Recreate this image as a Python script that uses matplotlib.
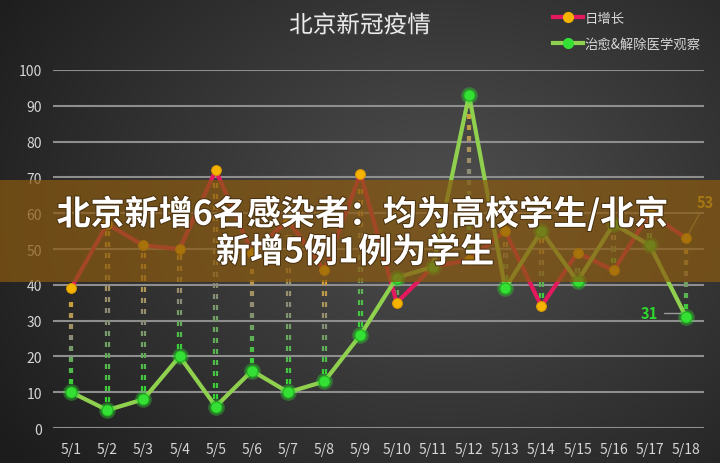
import numpy as np
import matplotlib
matplotlib.use('Agg')
import matplotlib.pyplot as plt
from matplotlib.collections import LineCollection
from matplotlib.lines import Line2D
from matplotlib.patches import Rectangle
from matplotlib.transforms import offset_copy
import matplotlib.patheffects as pe

plt.rcParams['font.family'] = ['Noto Sans CJK SC', 'DejaVu Sans']

dates = ['5/1', '5/2', '5/3', '5/4', '5/5', '5/6', '5/7', '5/8', '5/9',
         '5/10', '5/11', '5/12', '5/13', '5/14', '5/15', '5/16', '5/17', '5/18']
daily = [39, 57, 51, 50, 72, 49, 58, 44, 71, 35, 45, 47, 55, 34, 49, 44, 60, 53]
cured = [10, 5, 8, 20, 6, 16, 10, 13, 26, 42, 45, 93, 39, 55, 41, 57, 51, 31]
yticks = list(range(0, 101, 10))

title = '北京新冠疫情'
label_daily = '日增长'
label_cured = '治愈&解除医学观察'
banner_1 = '北京新增6名感染者：均为高校学生/北京'
banner_2 = '新增5例1例为学生'

RED = '#e3195f'
GOLD = '#f6b400'
LGREEN = '#8fd14f'
GREEN = '#35e035'

fig = plt.figure(figsize=(7.2, 4.64), dpi=100)

# background: soft radial gradient
bg = fig.add_axes([0, 0, 1, 1], zorder=-10)
yy, xx = np.mgrid[0:1:232j, 0:1:360j]
r = np.sqrt(((xx - 0.62) / 0.75) ** 2 + ((yy - 0.55) / 0.9) ** 2)
shade = np.clip(0.31 - 0.2 * r, 0.11, 0.31)
bg.imshow(np.dstack([shade] * 3), extent=[0, 1, 0, 1], aspect='auto', origin='lower')
bg.axis('off')

ax = fig.add_axes([0.0736, 0.0754, 0.9044, 0.7716])
ax.patch.set_alpha(0)
x = np.arange(len(dates))
ax.set_xlim(-0.5, len(dates) - 0.5)
ax.set_ylim(0, 100)
ax.set_yticks(yticks)
ax.set_xticks(x)
ax.set_xticklabels(dates)
for s in ax.spines.values():
    s.set_visible(False)
ax.tick_params(length=0, colors='#d6d6d6', labelsize=10, pad=8)
ax.tick_params(axis='x', pad=10)
ax.yaxis.grid(True, color='#8e8e8e', lw=1.5)
ax.set_axisbelow(True)

# high-low lines, dashed, fading from gold (top) to green (bottom)
segs, cols = [], []
c_top = np.array(matplotlib.colors.to_rgb('#e8a820'))
c_mid = np.array(matplotlib.colors.to_rgb('#8a8a7a'))
c_bot = np.array(matplotlib.colors.to_rgb('#2ed82e'))
for i in range(len(dates)):
    lo, hi = min(daily[i], cured[i]), max(daily[i], cured[i])
    y0 = lo + 2.2
    while y0 + 1.4 < hi - 1.5:
        t = (y0 - lo) / (hi - lo)
        if t < 0.5:
            c = c_bot + (c_mid - c_bot) * (t / 0.5)
        else:
            c = c_mid + (c_top - c_mid) * ((t - 0.5) / 0.5)
        segs.append([(x[i], y0), (x[i], y0 + 1.4)])
        cols.append(c)
        y0 += 3.1
for dx in (-1.4, 1.4):
    lc = LineCollection(segs, colors=cols, linewidths=1.6,
                        transform=offset_copy(ax.transData, fig, x=dx, y=0, units='dots'))
    ax.add_collection(lc)

ax.plot(x, daily, color=RED, lw=3, zorder=3, solid_joinstyle='round')
ax.plot(x, cured, color=LGREEN, lw=3, zorder=4, solid_joinstyle='round')
ax.plot(x, daily, 'o', color=GOLD, ms=7, zorder=5, mec='#d89a00', mew=0.8)
ax.plot(x, cured, 'o', color=GREEN, ms=12, alpha=0.35, zorder=5, mew=0)
ax.plot(x, cured, 'o', color=GREEN, ms=8, zorder=6, mec='#20b020', mew=0.8)

# end labels
ax.annotate(str(daily[-1]), (x[-1], daily[-1]), xytext=(14, 20), textcoords='offset points',
            color='#e8c21a', fontsize=10.5, fontweight='bold', ha='center', va='bottom',
            arrowprops=dict(arrowstyle='-', color='#b09a60', lw=0.8, shrinkA=0, shrinkB=4))
ax.annotate(str(cured[-1]), (x[-1], cured[-1]), xytext=(-20, 3), textcoords='offset points',
            color='#2ed82e', fontsize=10.5, fontweight='bold', ha='right', va='center',
            arrowprops=dict(arrowstyle='-', color='#9a9a9a', lw=1, shrinkA=2, shrinkB=5,
                            connectionstyle='angle,angleA=0,angleB=60,rad=0'))

fig.text(0.5, 0.942, title, ha='center', va='center', fontsize=17, color='#ececec',
         path_effects=[pe.withSimplePatchShadow(offset=(1, -1), alpha=0.5)])

handles = [Line2D([], [], color=RED, lw=3, marker='o', ms=7, mfc=GOLD, mec=GOLD),
           Line2D([], [], color=LGREEN, lw=3, marker='o', ms=7, mfc=GREEN, mec=GREEN)]
leg = fig.legend(handles, [label_daily, label_cured], loc='upper left',
                 bbox_to_anchor=(0.752, 1.0), frameon=False, fontsize=9.6,
                 labelcolor='#d8d8d8', handlelength=2.2, handletextpad=0.15,
                 labelspacing=0.9)

# overlay banner
fig.add_artist(Rectangle((0, 0.39), 1, 0.22, transform=fig.transFigure,
                         facecolor='#8a5a10', alpha=0.72, edgecolor='none', zorder=20))
fx = [pe.withStroke(linewidth=1.5, foreground='#4a3210')]
fig.text(0.503, 0.537, banner_1, ha='center', va='center', fontsize=24.5, color='white',
         fontweight='heavy', zorder=21, path_effects=fx)
fig.text(0.493, 0.455, banner_2, ha='center', va='center', fontsize=24.5, color='white',
         fontweight='heavy', zorder=21, path_effects=fx)

plt.savefig('out.png', dpi=100)
plt.close('all')
